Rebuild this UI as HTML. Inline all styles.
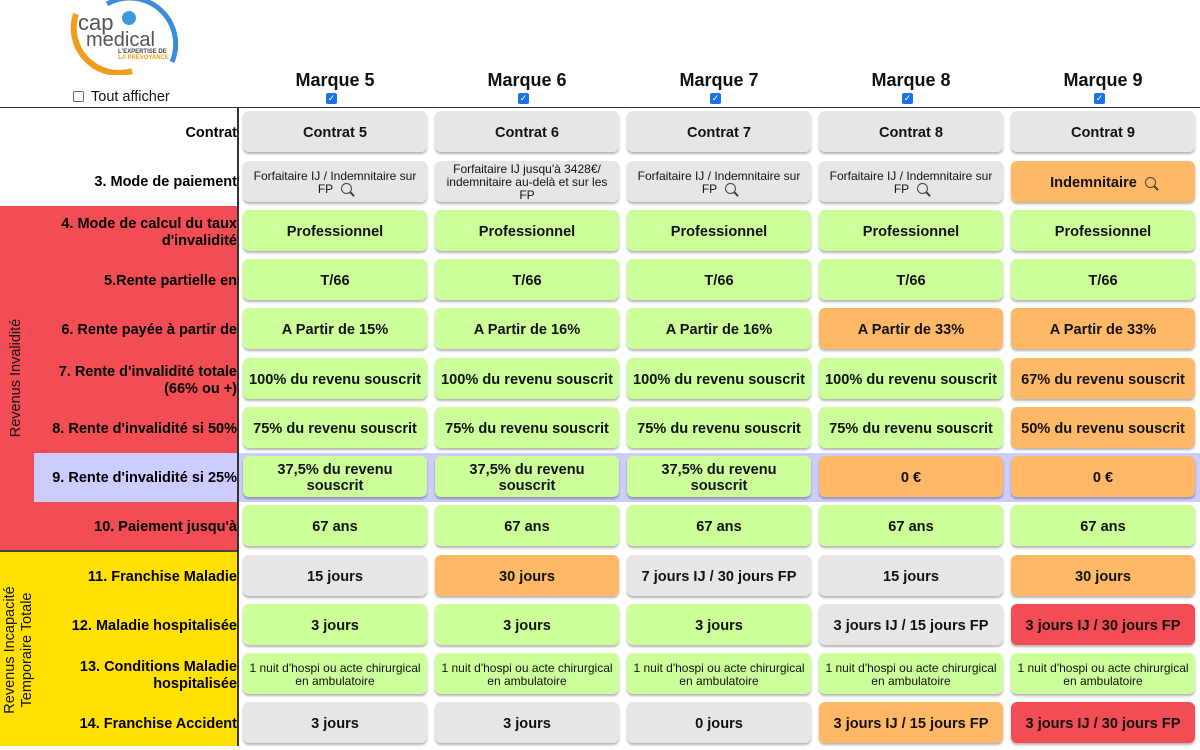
<!DOCTYPE html>
<html><head><meta charset="utf-8"><style>
*{margin:0;padding:0;box-sizing:border-box}
body{width:1200px;height:746px;background:#fff;position:relative;overflow:hidden;font-family:"Liberation Sans",Arial,sans-serif;color:#111}
.a{position:absolute}
.c{position:absolute;width:184px;height:41px;border-radius:6px;box-shadow:0 2px 2px rgba(0,0,0,.3);display:flex;align-items:center;justify-content:center;text-align:center;font-weight:bold;font-size:14.6px;line-height:16px;padding:2px 2px 0;white-space:normal}
.n{white-space:nowrap}
.s{font-weight:normal;font-size:12px;line-height:13px}
.g{background:#ccff99}.y{background:#e6e6e6}.o{background:#ffb866}.r{background:#f24d55}
.l{position:absolute;right:963px;width:220px;text-align:right;font-weight:bold;font-size:14.5px;line-height:17px;display:flex;align-items:center;justify-content:flex-end;height:49px;padding-top:4px;color:#000}
.h{position:absolute;width:184px;text-align:center;font-weight:bold;font-size:18px;top:70px}
.cb{position:absolute;width:11px;height:11px;border-radius:2px;background:#1a73e8;top:93px;color:#fff;font-size:9px;line-height:11px;text-align:center}
.z{display:inline-block;width:11px;height:11px;border:1.6px solid #444;border-radius:50%;position:relative;margin-left:8px;vertical-align:-1px}
.z:after{content:"";position:absolute;width:2px;height:6px;background:#444;left:9px;top:7px;transform:rotate(-45deg)}
</style></head><body>
<svg class="a" style="left:62px;top:0" width="120" height="75" viewBox="0 0 120 75">
<path d="M14 14 A45 45 0 0 0 70 71" stroke="#f39c1c" stroke-width="6" fill="none"/>
<path d="M45 4 A46 46 0 0 1 110 62" stroke="#3a8ddb" stroke-width="5" fill="none"/>
<circle cx="67" cy="18" r="7" fill="#3a9be0"/>
<text x="16" y="30" font-family="Liberation Sans" font-size="22" fill="#555">cap</text>
<text x="24" y="46" font-family="Liberation Sans" font-size="20" fill="#555">medical</text>
<text x="56" y="53" font-family="Liberation Sans" font-size="6" font-weight="bold" fill="#444">L'EXPERTISE DE</text>
<text x="56" y="59" font-family="Liberation Sans" font-size="6" font-weight="bold" fill="#f39c1c">LA PRÉVOYANCE</text>
</svg>
<div class="a" style="left:73px;top:91px;width:11px;height:11px;border:1px solid #666;border-radius:2px"></div>
<div class="a" style="left:91px;top:89px;font-size:14.5px">Tout afficher</div>
<div class="h" style="left:243px">Marque 5</div><div class="cb" style="left:326px">✓</div>
<div class="h" style="left:435px">Marque 6</div><div class="cb" style="left:518px">✓</div>
<div class="h" style="left:627px">Marque 7</div><div class="cb" style="left:710px">✓</div>
<div class="h" style="left:819px">Marque 8</div><div class="cb" style="left:902px">✓</div>
<div class="h" style="left:1011px">Marque 9</div><div class="cb" style="left:1094px">✓</div>

<div class="a" style="left:0;top:107px;width:1200px;height:1px;background:#333"></div>
<div class="a" style="left:0;top:206px;width:238px;height:345px;background:#f24d55"></div>
<div class="a" style="left:34px;top:453px;width:1166px;height:49px;background:#ccccff"></div>
<div class="a" style="left:0;top:551px;width:238px;height:195px;background:#ffe000"></div>
<div class="a" style="left:0;top:550px;width:238px;height:2px;background:#444"></div>
<div class="a" style="left:237px;top:107px;width:1.5px;height:639px;background:#333"></div>
<div class="a" style="left:17px;top:378px;width:0;height:0;transform:rotate(-90deg)"><div style="position:absolute;width:200px;left:-100px;top:-9px;text-align:center;font-size:14.5px">Revenus Invalidité</div></div>
<div class="a" style="left:19px;top:650px;width:0;height:0;transform:rotate(-90deg)"><div style="position:absolute;width:200px;left:-100px;top:-17px;text-align:center;font-size:14.5px;line-height:17px">Revenus Incapacité<br>Temporaire Totale</div></div>

<div class="l" style="top:107px">Contrat</div>
<div class="l" style="top:156px">3. Mode de paiement</div>
<div class="l" style="top:206px">4. Mode de calcul du taux<br>d'invalidité</div>
<div class="l" style="top:255px">5.Rente partielle en</div>
<div class="l" style="top:304px">6. Rente payée à partir de</div>
<div class="l" style="top:354px">7. Rente d'invalidité totale<br>(66% ou +)</div>
<div class="l" style="top:403px">8. Rente d'invalidité si 50%</div>
<div class="l" style="top:452px">9. Rente d'invalidité si 25%</div>
<div class="l" style="top:501px">10. Paiement jusqu'à</div>
<div class="l" style="top:551px">11. Franchise Maladie</div>
<div class="l" style="top:600px">12. Maladie hospitalisée</div>
<div class="l" style="top:649px">13. Conditions Maladie<br>hospitalisée</div>
<div class="l" style="top:698px">14. Franchise Accident</div>

<div class="c y" style="left:243px;top:111px">Contrat 5</div>
<div class="c y" style="left:435px;top:111px">Contrat 6</div>
<div class="c y" style="left:627px;top:111px">Contrat 7</div>
<div class="c y" style="left:819px;top:111px">Contrat 8</div>
<div class="c y" style="left:1011px;top:111px">Contrat 9</div>
<div class="c y s" style="left:243px;top:161px"><span>Forfaitaire IJ / Indemnitaire sur FP<span class="z"></span></span></div>
<div class="c y s" style="left:435px;top:161px">Forfaitaire IJ jusqu'à 3428€/<br>indemnitaire au-delà et sur les<br>FP</div>
<div class="c y s" style="left:627px;top:161px"><span>Forfaitaire IJ / Indemnitaire sur FP<span class="z"></span></span></div>
<div class="c y s" style="left:819px;top:161px"><span>Forfaitaire IJ / Indemnitaire sur FP<span class="z"></span></span></div>
<div class="c o" style="left:1011px;top:161px"><span>Indemnitaire<span class="z"></span></span></div>
<div class="c g" style="left:243px;top:210px">Professionnel</div>
<div class="c g" style="left:435px;top:210px">Professionnel</div>
<div class="c g" style="left:627px;top:210px">Professionnel</div>
<div class="c g" style="left:819px;top:210px">Professionnel</div>
<div class="c g" style="left:1011px;top:210px">Professionnel</div>
<div class="c g" style="left:243px;top:259px">T/66</div>
<div class="c g" style="left:435px;top:259px">T/66</div>
<div class="c g" style="left:627px;top:259px">T/66</div>
<div class="c g" style="left:819px;top:259px">T/66</div>
<div class="c g" style="left:1011px;top:259px">T/66</div>
<div class="c g" style="left:243px;top:308px">A Partir de 15%</div>
<div class="c g" style="left:435px;top:308px">A Partir de 16%</div>
<div class="c g" style="left:627px;top:308px">A Partir de 16%</div>
<div class="c o" style="left:819px;top:308px">A Partir de 33%</div>
<div class="c o" style="left:1011px;top:308px">A Partir de 33%</div>
<div class="c g n" style="left:243px;top:358px">100% du revenu souscrit</div>
<div class="c g n" style="left:435px;top:358px">100% du revenu souscrit</div>
<div class="c g n" style="left:627px;top:358px">100% du revenu souscrit</div>
<div class="c g n" style="left:819px;top:358px">100% du revenu souscrit</div>
<div class="c o n" style="left:1011px;top:358px">67% du revenu souscrit</div>
<div class="c g n" style="left:243px;top:407px">75% du revenu souscrit</div>
<div class="c g n" style="left:435px;top:407px">75% du revenu souscrit</div>
<div class="c g n" style="left:627px;top:407px">75% du revenu souscrit</div>
<div class="c g n" style="left:819px;top:407px">75% du revenu souscrit</div>
<div class="c o n" style="left:1011px;top:407px">50% du revenu souscrit</div>
<div class="c g" style="left:243px;top:456px">37,5% du revenu<br>souscrit</div>
<div class="c g" style="left:435px;top:456px">37,5% du revenu<br>souscrit</div>
<div class="c g" style="left:627px;top:456px">37,5% du revenu<br>souscrit</div>
<div class="c o" style="left:819px;top:456px">0 €</div>
<div class="c o" style="left:1011px;top:456px">0 €</div>
<div class="c g" style="left:243px;top:505px">67 ans</div>
<div class="c g" style="left:435px;top:505px">67 ans</div>
<div class="c g" style="left:627px;top:505px">67 ans</div>
<div class="c g" style="left:819px;top:505px">67 ans</div>
<div class="c g" style="left:1011px;top:505px">67 ans</div>
<div class="c y" style="left:243px;top:555px">15 jours</div>
<div class="c o" style="left:435px;top:555px">30 jours</div>
<div class="c y n" style="left:627px;top:555px">7 jours IJ / 30 jours FP</div>
<div class="c y" style="left:819px;top:555px">15 jours</div>
<div class="c o" style="left:1011px;top:555px">30 jours</div>
<div class="c g" style="left:243px;top:604px">3 jours</div>
<div class="c g" style="left:435px;top:604px">3 jours</div>
<div class="c g" style="left:627px;top:604px">3 jours</div>
<div class="c y n" style="left:819px;top:604px">3 jours IJ / 15 jours FP</div>
<div class="c r n" style="left:1011px;top:604px">3 jours IJ / 30 jours FP</div>
<div class="c g s" style="left:243px;top:653px">1 nuit d'hospi ou acte chirurgical en ambulatoire</div>
<div class="c g s" style="left:435px;top:653px">1 nuit d'hospi ou acte chirurgical en ambulatoire</div>
<div class="c g s" style="left:627px;top:653px">1 nuit d'hospi ou acte chirurgical en ambulatoire</div>
<div class="c g s" style="left:819px;top:653px">1 nuit d'hospi ou acte chirurgical en ambulatoire</div>
<div class="c g s" style="left:1011px;top:653px">1 nuit d'hospi ou acte chirurgical en ambulatoire</div>
<div class="c y" style="left:243px;top:702px">3 jours</div>
<div class="c y" style="left:435px;top:702px">3 jours</div>
<div class="c y" style="left:627px;top:702px">0 jours</div>
<div class="c o n" style="left:819px;top:702px">3 jours IJ / 15 jours FP</div>
<div class="c r n" style="left:1011px;top:702px">3 jours IJ / 30 jours FP</div>
</body></html>
